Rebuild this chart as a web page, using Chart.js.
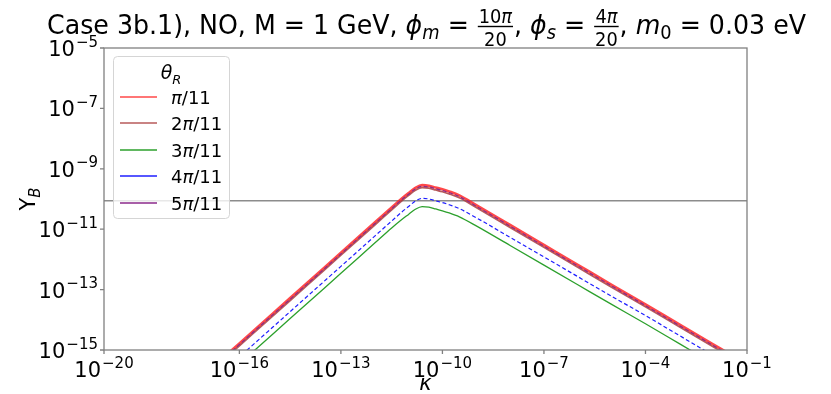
<!DOCTYPE html>
<html><head><meta charset="utf-8">
<script src="https://cdn.jsdelivr.net/npm/chart.js@4.4.1/dist/chart.umd.min.js"></script>
<style>html,body{margin:0;padding:0;background:#fff;}canvas{display:block;}</style>
</head><body>
<canvas id="c" width="831" height="394"></canvas>
<script>
// ---- data (log10 values) ----
const logKappa = [-16.5,-16,-15,-14,-13,-12,-11.5,-11.2,-11.0,-10.8,-10.6,-10.4,-10.2,-10.0,-9.8,-9.5,-9,-8,-7,-6,-5,-4,-3,-2,-1.5,-1];
const logY_pi11  = [-15.28,-14.78,-13.78,-12.78,-11.78,-10.78,-10.28,-9.98,-9.80,-9.63,-9.54,-9.56,-9.62,-9.68,-9.75,-9.88,-10.20,-10.86,-11.52,-12.18,-12.84,-13.49,-14.15,-14.81,-15.14,-15.47];
const logY_2pi11 = [-15.36,-14.86,-13.86,-12.86,-11.86,-10.86,-10.36,-10.06,-9.88,-9.71,-9.62,-9.64,-9.70,-9.76,-9.83,-9.96,-10.28,-10.94,-11.60,-12.26,-12.92,-13.57,-14.23,-14.89,-15.22,-15.55];
const logY_3pi11 = [-15.96,-15.46,-14.46,-13.46,-12.46,-11.46,-10.96,-10.68,-10.51,-10.34,-10.25,-10.27,-10.33,-10.39,-10.46,-10.59,-10.89,-11.54,-12.19,-12.84,-13.49,-14.13,-14.79,-15.45,-15.78,-16.11];
const logY_4pi11 = [-15.73,-15.23,-14.23,-13.23,-12.23,-11.23,-10.73,-10.43,-10.25,-10.07,-9.98,-10.00,-10.06,-10.12,-10.19,-10.32,-10.62,-11.27,-11.92,-12.57,-13.22,-13.86,-14.52,-15.18,-15.51,-15.84];
const logY_5pi11 = [-15.32,-14.82,-13.82,-12.82,-11.82,-10.82,-10.32,-10.02,-9.84,-9.67,-9.58,-9.60,-9.66,-9.72,-9.79,-9.92,-10.24,-10.90,-11.56,-12.22,-12.88,-13.53,-14.19,-14.85,-15.18,-15.51];
const observedYB = 8.7e-11;
const xTickExps = [-20,-16,-13,-10,-7,-4,-1];
const yTickExps = [-15,-13,-11,-9,-7,-5];
const seriesLabels = [['','π','/11'],['2','π','/11'],['3','π','/11'],['4','π','/11'],['5','π','/11']];

const toPts = (ly) => logKappa.map((lk,i)=>({x:Math.pow(10,lk), y:Math.pow(10,ly[i])}));

const FONT = '"DejaVu Sans", "Liberation Sans", sans-serif';

const styles = [
  {color:'rgba(255,40,40,0.85)', width:2.6, dash:[], order:5},
  {color:'rgba(170,60,60,0.85)', width:1.8, dash:[], order:4},
  {color:'#2ca02c', width:1.3, dash:[], order:3},
  {color:'#1f1fff', width:1.2, dash:[4,2.5], order:2},
  {color:'#8b2a8b', width:1.2, dash:[4,2.5], order:1},
];
const series = [logY_pi11, logY_2pi11, logY_3pi11, logY_4pi11, logY_5pi11];

const datasets = series.map((s,i)=>({
  label: seriesLabels[i].join(''),
  data: toPts(s),
  borderColor: styles[i].color,
  borderWidth: styles[i].width,
  borderDash: styles[i].dash,
  order: styles[i].order,
  showLine: true, pointRadius: 0, fill:false,
  cubicInterpolationMode: 'monotone'
}));
datasets.push({
  label:'obs', data:[{x:1e-20,y:observedYB},{x:1e-1,y:observedYB}],
  borderColor:'#8c8c8c', borderWidth:1.5, showLine:true, pointRadius:0, order:6
});

function drawPow(ctx, exp, x, y, align){
  const base='10', sup='\u2212'+Math.abs(exp);
  ctx.font = '21px '+FONT; const w1 = ctx.measureText(base).width;
  ctx.font = '15px '+FONT; const w2 = ctx.measureText(sup).width;
  const tot = w1 + w2 + 1;
  let x0 = align==='center' ? x - tot/2 : x - tot;
  ctx.textAlign='left'; ctx.textBaseline='alphabetic'; ctx.fillStyle='#000';
  ctx.font = '21px '+FONT; ctx.fillText(base, x0, y);
  ctx.font = '15px '+FONT; ctx.fillText(sup, x0 + w1 + 1, y - 9.5);
}

function drawSegs(ctx, segs, cx, baseline, targetW){
  let total=0;
  segs.forEach(s=>{
    if(s.frac){
      ctx.font = s.font; const wn = ctx.measureText(s.num[0]).width; ctx.font=s.ifont; const wp=ctx.measureText(s.num[1]).width;
      ctx.font = s.font; const wd = ctx.measureText(s.den).width;
      s.wn = wn+wp; s.wd = wd; s.w = Math.max(s.wn, wd)+4; s.wnum0=wn;
    } else { ctx.font = s.font; s.w = ctx.measureText(s.t).width; }
    total += s.w;
  });
  const sx = targetW / total;
  ctx.save();
  ctx.translate(cx - targetW/2, 0);
  ctx.scale(sx, 1);
  let x = 0;
  ctx.textAlign='left'; ctx.textBaseline='alphabetic'; ctx.fillStyle='#000';
  segs.forEach(s=>{
    if(s.frac){
      const bar = baseline - 7.5;
      const nx = x + (s.w - s.wn)/2;
      ctx.font = s.font; ctx.fillText(s.num[0], nx, bar - 3.5);
      ctx.font = s.ifont; ctx.fillText(s.num[1], nx + s.wnum0, bar - 3.5);
      ctx.font = s.font; ctx.fillText(s.den, x + (s.w - s.wd)/2, bar + 19);
      ctx.fillRect(x+1, bar-0.7, s.w-2, 1.4);
    } else {
      ctx.font = s.font; ctx.fillText(s.t, x, baseline + (s.dy||0));
    }
    x += s.w;
  });
  ctx.restore();
}

const decor = {
  id:'decor',
  afterDatasetsDraw(chart){
    const ctx = chart.ctx, a = chart.chartArea, xs = chart.scales.x, ys = chart.scales.y;
    ctx.save();
    // spines
    ctx.strokeStyle='#808080'; ctx.lineWidth=1.3;
    ctx.strokeRect(a.left, a.top, a.right-a.left, a.bottom-a.top);
    // ticks
    ctx.beginPath();
    xTickExps.forEach(e=>{ const px = xs.getPixelForValue(Math.pow(10,e)); ctx.moveTo(px,a.bottom); ctx.lineTo(px,a.bottom+4); });
    yTickExps.forEach(e=>{ const py = ys.getPixelForValue(Math.pow(10,e)); ctx.moveTo(a.left,py); ctx.lineTo(a.left-4,py); });
    ctx.stroke();
    xTickExps.forEach(e=> drawPow(ctx, e, xs.getPixelForValue(Math.pow(10,e)), a.bottom+27, 'center'));
    yTickExps.forEach(e=> drawPow(ctx, e, a.left-6, ys.getPixelForValue(Math.pow(10,e))+8, 'right'));
    // axis labels
    ctx.fillStyle='#000'; ctx.textAlign='center';
    ctx.font='italic 21px '+FONT; ctx.fillText('κ', (a.left+a.right)/2, 390);
    ctx.save(); ctx.translate(35, (a.top+a.bottom)/2); ctx.rotate(-Math.PI/2);
    ctx.font='21px '+FONT; const wy = ctx.measureText('Y').width; ctx.font='italic 15px '+FONT; const wb = ctx.measureText('B').width;
    const tx = -(wy+wb)/2; ctx.textAlign='left';
    ctx.font='21px '+FONT; ctx.fillText('Y', tx, 0);
    ctx.font='italic 15px '+FONT; ctx.fillText('B', tx+wy, 5);
    ctx.restore();
    // legend
    const lx=113, ly=56, lw=116, lh=162;
    ctx.beginPath(); ctx.roundRect(lx+0.5, ly+0.5, lw, lh, 4);
    ctx.fillStyle='rgba(255,255,255,0.8)'; ctx.fill();
    ctx.strokeStyle='#d5d5d5'; ctx.lineWidth=1; ctx.stroke();
    ctx.textAlign='left'; ctx.fillStyle='#000';
    ctx.font='italic 19px '+FONT; const wt = ctx.measureText('θ').width; ctx.font='italic 13px '+FONT; const wr = ctx.measureText('R').width;
    const tx0 = lx + lw/2 - (wt+wr)/2;
    ctx.font='italic 19px '+FONT; ctx.fillText('θ', tx0, 79);
    ctx.font='italic 13px '+FONT; ctx.fillText('R', tx0+wt, 84);
    const rows=[97,123,150,176,203];
    chart.data.datasets.slice(0,5).forEach((d,i)=>{
      ctx.beginPath(); ctx.strokeStyle=d.borderColor; ctx.lineWidth=1.6; ctx.setLineDash([]);
      ctx.moveTo(120, rows[i]); ctx.lineTo(157, rows[i]); ctx.stroke();
      const parts = seriesLabels[i]; let x=171; const by = rows[i]+7;
      ctx.fillStyle='#000';
      ctx.font='18px '+FONT; ctx.fillText(parts[0], x, by); x+=ctx.measureText(parts[0]).width;
      ctx.font='italic 18px '+FONT; ctx.fillText(parts[1], x, by); x+=ctx.measureText(parts[1]).width;
      ctx.font='18px '+FONT; ctx.fillText(parts[2], x, by);
    });
    // title
    const R='27px '+FONT, I='italic 27px '+FONT, IS='italic 19px '+FONT, RS='19px '+FONT;
    drawSegs(ctx, [
      {t:'Case 3b.1), NO, M = 1 GeV, ', font:R},
      {t:'ϕ', font:I}, {t:'m', font:IS, dy:5}, {t:' = ', font:R},
      {frac:true, num:['10','π'], den:'20', font:RS, ifont:IS},
      {t:', ', font:R},
      {t:'ϕ', font:I}, {t:'s', font:IS, dy:5}, {t:' = ', font:R},
      {frac:true, num:['4','π'], den:'20', font:RS, ifont:IS},
      {t:', ', font:R},
      {t:'m', font:I}, {t:'0', font:RS, dy:5}, {t:' = 0.03 eV', font:R}
    ], 426.5, 34, 759);
    ctx.restore();
  }
};

new Chart(document.getElementById('c'), {
  type:'scatter',
  data:{datasets},
  options:{
    responsive:false, animation:false, devicePixelRatio:1,
    layout:{padding:{top:48, right:84, left:0, bottom:0}},
    plugins:{legend:{display:false}, title:{display:false}, tooltip:{enabled:false}},
    scales:{
      x:{type:'logarithmic', min:1e-20, max:1e-1,
         afterBuildTicks:(s)=>{s.ticks = xTickExps.map(e=>({value:Math.pow(10,e)}));},
         afterFit:(s)=>{s.height=44;},
         ticks:{display:false}, grid:{display:false}, border:{display:false}},
      y:{type:'logarithmic', min:1e-15, max:1e-5,
         afterBuildTicks:(s)=>{s.ticks = yTickExps.map(e=>({value:Math.pow(10,e)}));},
         afterFit:(s)=>{s.width=104;},
         ticks:{display:false}, grid:{display:false}, border:{display:false}}
    }
  },
  plugins:[decor]
});
</script>
</body></html>
